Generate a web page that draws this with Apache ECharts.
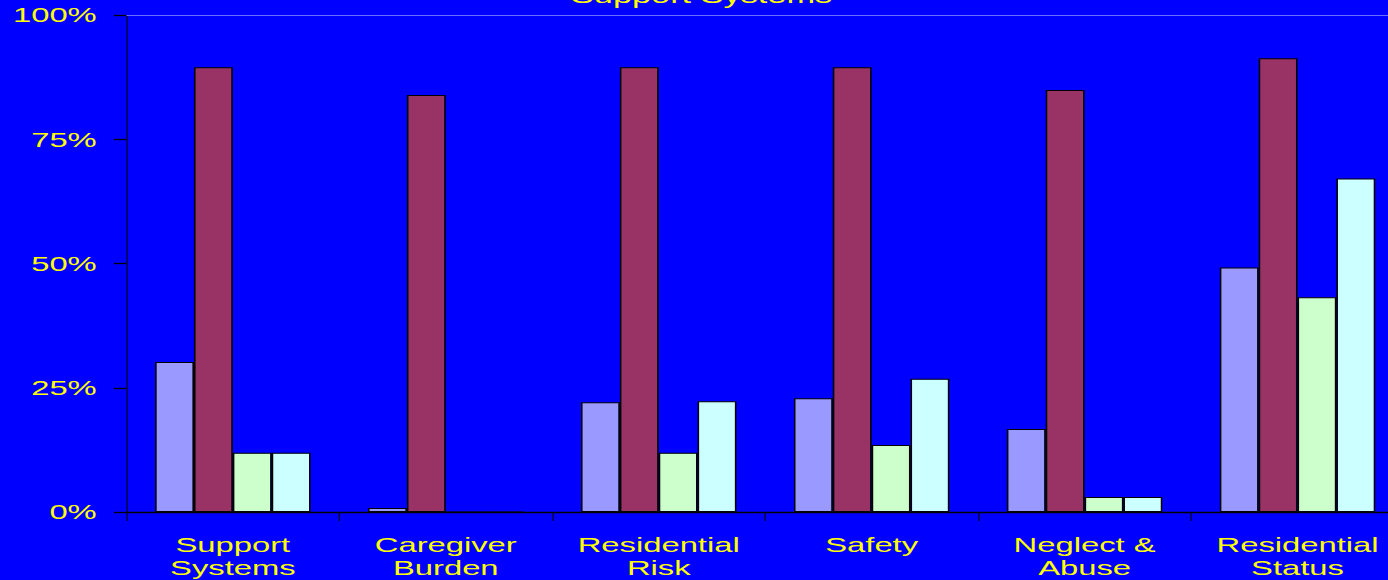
<!DOCTYPE html>
<html>
<head>
<meta charset="utf-8">
<title>Support Systems</title>
<script src="https://cdn.jsdelivr.net/npm/echarts@6/dist/echarts.min.js"></script>
<style>
  html, body { margin: 0; padding: 0; background: #0000ff; overflow: hidden; width: 1388px; height: 580px; }
  /* the chart is laid out narrow and widened, which gives the broad lettering */
  #chart { width: 890px; height: 580px; transform: scaleX(1.56); transform-origin: 0 0; }
</style>
</head>
<body>
<div id="chart"></div>
<script>
// Domains on the x axis
const categories = ['Support\nSystems', 'Caregiver\nBurden', 'Residential\nRisk', 'Safety', 'Neglect &\nAbuse', 'Residential\nStatus'];

// Percentage of cases per group in each domain
const seriesA = [30.2, 0.8, 22.1, 22.9, 16.7, 49.2];
const seriesB = [89.5, 83.9, 89.5, 89.5, 84.9, 91.3];
const seriesC = [11.9, 0, 11.9, 13.5, 3.0, 43.2];
const seriesD = [11.9, 0, 22.3, 26.8, 3.0, 67.1];

const seriesNames = ['Group 1', 'Group 2', 'Group 3', 'Group 4'];
const seriesColors = ['#9999ff', '#993366', '#ccffcc', '#ccffff'];

// Value axis ticks
const yTicks = { min: 0, max: 100, interval: 25 };

const FONT = '"Liberation Sans", Arial, sans-serif';
const YELLOW = '#ffff00';

const chart = echarts.init(document.getElementById('chart'), null, { renderer: 'svg' });

const makeBar = (name, data, color) => ({
  name: name,
  type: 'bar',
  data: data,
  barGap: '0%',
  barCategoryGap: '27%',
  itemStyle: { color: color, borderColor: '#000000', borderWidth: 1 },
  emphasis: { disabled: true }
});

chart.setOption({
  backgroundColor: '#0000ff',
  animation: false,
  title: {
    text: 'Support Systems',
    left: 361,
    top: -21,
    textStyle: { color: YELLOW, fontFamily: FONT, fontSize: 22, fontWeight: 'normal' }
  },
  // the plot runs a little past the right edge of the page
  grid: { left: 81, top: 15, width: 819, height: 497, containLabel: false, outerBoundsMode: 'none' },
  xAxis: [
    {
      type: 'category',
      data: categories,
      position: 'bottom',
      axisLine: { lineStyle: { color: '#000000', width: 1.3 } },
      axisTick: { show: true, length: 9, lineStyle: { color: '#000000', width: 0.7 } },
      axisLabel: {
        color: YELLOW, fontFamily: FONT, fontSize: 21, lineHeight: 23,
        margin: 21, interval: 0
      },
      splitLine: { show: false }
    },
    {
      type: 'category',
      data: categories,
      position: 'top',
      axisLine: { lineStyle: { color: '#6b6bff', width: 1 } },
      axisTick: { show: false },
      axisLabel: { show: false },
      splitLine: { show: false }
    }
  ],
  yAxis: {
    type: 'value',
    min: yTicks.min,
    max: yTicks.max,
    interval: yTicks.interval,
    axisLine: { show: true, lineStyle: { color: '#000000', width: 0.7 } },
    axisTick: { show: true, length: 8, lineStyle: { color: '#000000', width: 1.3 } },
    axisLabel: {
      color: YELLOW, fontFamily: FONT, fontSize: 21, margin: 19,
      formatter: '{value}%'
    },
    splitLine: { show: false }
  },
  series: [
    makeBar(seriesNames[0], seriesA, seriesColors[0]),
    makeBar(seriesNames[1], seriesB, seriesColors[1]),
    makeBar(seriesNames[2], seriesC, seriesColors[2]),
    makeBar(seriesNames[3], seriesD, seriesColors[3])
  ]
});
</script>
</body>
</html>
